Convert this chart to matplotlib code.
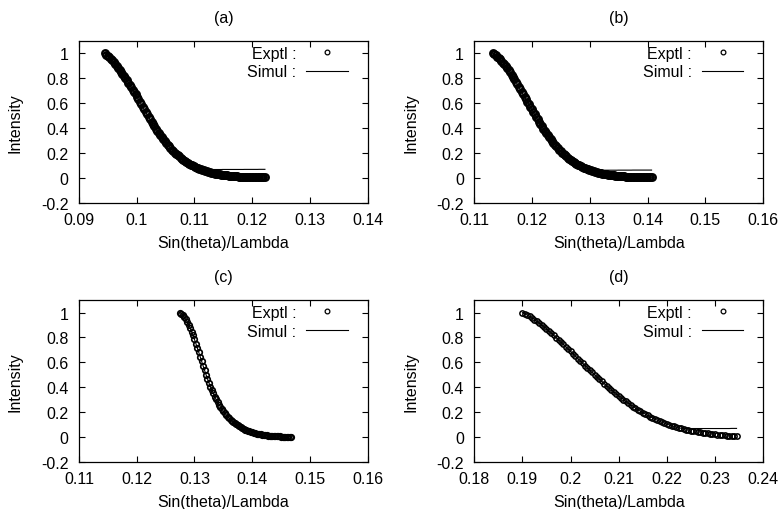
import numpy as np
import matplotlib
matplotlib.use('Agg')
import matplotlib.pyplot as plt

plt.rcParams['font.family'] = ['Liberation Sans', 'DejaVu Sans']
FS = 11.5
plt.rcParams['font.size'] = FS

# ---------------- data ----------------
panel_titles = ['(a)', '(b)', '(c)', '(d)']
x_label = 'Sin(theta)/Lambda'
y_label = 'Intensity'
legend_labels = ['Exptl :', 'Simul :']

# x extents of the measured scans (uniformly sampled)
x_start_a, x_end_a, n_a = 0.0945, 0.1222, 111
x_start_b, x_end_b, n_b = 0.1132, 0.1407, 111
x_start_c, x_end_c, n_c = 0.1275, 0.14675, 78
x_start_d, x_end_d, n_d = 0.1900, 0.2345, 90

exp_a = [1.0,
         0.9901, 0.9795, 0.9681, 0.956, 0.9431, 0.9295,
         0.9153, 0.9005, 0.8853, 0.8695, 0.8533, 0.8365,
         0.8193, 0.8018, 0.784, 0.7658, 0.7473, 0.7285,
         0.7094, 0.69, 0.6704, 0.6505, 0.6304, 0.61,
         0.5895, 0.5691, 0.5488, 0.5286, 0.5085, 0.4885,
         0.4687, 0.4493, 0.4303, 0.4118, 0.3937, 0.376,
         0.3587, 0.3419, 0.3256, 0.3098, 0.2945, 0.2797,
         0.2655, 0.2518, 0.2386, 0.226, 0.2139, 0.2024,
         0.1914, 0.1808, 0.1707, 0.161, 0.1518, 0.1431,
         0.1348, 0.1269, 0.1193, 0.1121, 0.1053, 0.0989,
         0.0928, 0.087, 0.0815, 0.0763, 0.0714, 0.0667,
         0.0623, 0.0581, 0.0542, 0.0505, 0.047, 0.0438,
         0.0408, 0.0379, 0.0352, 0.0327, 0.0303, 0.0281,
         0.026, 0.0241, 0.0223, 0.0206, 0.019, 0.0176,
         0.0163, 0.015, 0.0138, 0.0127, 0.0117, 0.0108,
         0.0099, 0.0091, 0.0084, 0.0077, 0.007, 0.0064,
         0.0058, 0.0053, 0.0049, 0.0044, 0.004, 0.0037,
         0.0034, 0.0031, 0.0028, 0.0025, 0.0022, 0.002, 0.0018, 0.0016]
sim_a = exp_a[:66] + [0.0665, 0.066, 0.066, 0.0655, 0.0655, 0.0655, 0.0655, 0.0655, 0.0655, 0.0655,
                      0.0655, 0.0655, 0.0655, 0.0655, 0.0655, 0.066, 0.066, 0.066, 0.066, 0.066,
                      0.066, 0.066, 0.066, 0.066, 0.066, 0.066, 0.066, 0.066, 0.066, 0.066,
                      0.0665, 0.0665, 0.0665, 0.0665, 0.0665, 0.0665, 0.0665, 0.0665, 0.0665, 0.0665,
                      0.067, 0.067, 0.067, 0.067, 0.067]

exp_b = [1.0,
         0.9925, 0.984, 0.9745, 0.964, 0.9525, 0.94,
         0.9265, 0.912, 0.8965, 0.8805, 0.8638, 0.8465,
         0.8285, 0.81, 0.791, 0.7715, 0.7515, 0.731,
         0.71, 0.69, 0.6704, 0.6505, 0.6304, 0.61,
         0.5895, 0.5691, 0.5488, 0.5286, 0.5085, 0.4885,
         0.4687, 0.4493, 0.4303, 0.4118, 0.3937, 0.376,
         0.3587, 0.3419, 0.3256, 0.3098, 0.2945, 0.2797,
         0.2655, 0.2518, 0.2386, 0.226, 0.2139, 0.2024,
         0.1914, 0.1808, 0.1707, 0.161, 0.1518, 0.1431,
         0.1348, 0.1269, 0.1193, 0.1121, 0.1053, 0.0989,
         0.0928, 0.087, 0.0815, 0.0763, 0.0714, 0.0667,
         0.0623, 0.0581, 0.0542, 0.0505, 0.047, 0.0438,
         0.0408, 0.0379, 0.0352, 0.0327, 0.0303, 0.0281,
         0.026, 0.0241, 0.0223, 0.0206, 0.019, 0.0176,
         0.0163, 0.015, 0.0138, 0.0127, 0.0117, 0.0108,
         0.0099, 0.0091, 0.0084, 0.0077, 0.007, 0.0064,
         0.0058, 0.0053, 0.0049, 0.0044, 0.004, 0.0037,
         0.0034, 0.0031, 0.0028, 0.0025, 0.0022, 0.002, 0.0018, 0.0016]
sim_b = exp_b[:67] + [0.0615, 0.061, 0.0605, 0.0605, 0.060, 0.060, 0.060, 0.060, 0.060, 0.060,
                      0.060, 0.060, 0.060, 0.060, 0.060, 0.060, 0.060, 0.060, 0.060, 0.060,
                      0.0605, 0.0605, 0.0605, 0.0605, 0.0605, 0.0605, 0.0605, 0.0605, 0.0605, 0.0605,
                      0.061, 0.061, 0.061, 0.061, 0.061, 0.061, 0.061, 0.061, 0.061, 0.061,
                      0.061, 0.061, 0.061, 0.061]

exp_c = [1.0,
         0.99, 0.9775, 0.9625, 0.945, 0.9248, 0.9018, 0.876, 0.8474,
         0.8166, 0.7843, 0.7505, 0.7152, 0.6792, 0.6431, 0.6069, 0.5707,
         0.5351, 0.5007, 0.4676, 0.4357, 0.4053, 0.3767, 0.3498, 0.3247,
         0.3012, 0.2793, 0.2589, 0.2401, 0.2226, 0.2062, 0.1908, 0.1765,
         0.1631, 0.1506, 0.1389, 0.128, 0.1178, 0.1083, 0.0995, 0.0914,
         0.0839, 0.0769, 0.0704, 0.0644, 0.0588, 0.0536, 0.0488, 0.0444,
         0.0403, 0.0365, 0.033, 0.0298, 0.0269, 0.0242, 0.0217, 0.0195,
         0.0174, 0.0155, 0.0138, 0.0122, 0.0108, 0.0095, 0.0083, 0.0072,
         0.0062, 0.0053, 0.0045, 0.0038, 0.0031, 0.0025, 0.002, 0.0015,
         0.0012, 0.001, 0.0008, 0.0006, 0.0005]
sim_c = list(exp_c)

exp_d = [1.0,
         0.9905, 0.9802, 0.969, 0.9569, 0.944, 0.9304, 0.916, 0.9009,
         0.8851, 0.8688, 0.852, 0.8347, 0.8171, 0.7992, 0.7811, 0.7627,
         0.7441, 0.7254, 0.7066, 0.6876, 0.6686, 0.6496, 0.6306, 0.6116,
         0.5926, 0.5738, 0.5551, 0.5365, 0.5181, 0.4999, 0.4819, 0.464,
         0.4464, 0.429, 0.4119, 0.395, 0.3784, 0.3621, 0.3461, 0.3304,
         0.3151, 0.3002, 0.2856, 0.2714, 0.2576, 0.2442, 0.2313, 0.2188,
         0.2068, 0.1952, 0.184, 0.1733, 0.163, 0.1531, 0.1437, 0.1347,
         0.1262, 0.1181, 0.1104, 0.1032, 0.0964, 0.09, 0.0839, 0.0782,
         0.0729, 0.0679, 0.0632, 0.0588, 0.0547, 0.0507, 0.0469, 0.0433,
         0.0399, 0.0366, 0.0335, 0.0305, 0.0277, 0.025, 0.0224, 0.02,
         0.0177, 0.0155, 0.0134, 0.0114, 0.0095, 0.0078, 0.0062, 0.0046,
         0.0032]
sim_d = exp_d[:66] + [0.069,
                      0.068, 0.068, 0.068, 0.067, 0.067, 0.067, 0.067, 0.067, 0.067, 0.067,
                      0.067, 0.067, 0.067, 0.067, 0.067, 0.067, 0.067, 0.067, 0.067, 0.067,
                      0.068, 0.068, 0.068]

xticks_a = [0.09, 0.10, 0.11, 0.12, 0.13, 0.14]
xticklabels_a = ['0.09', '0.1', '0.11', '0.12', '0.13', '0.14']
xticks_b = [0.11, 0.12, 0.13, 0.14, 0.15, 0.16]
xticklabels_b = ['0.11', '0.12', '0.13', '0.14', '0.15', '0.16']
xticks_c = [0.11, 0.12, 0.13, 0.14, 0.15, 0.16]
xticklabels_c = ['0.11', '0.12', '0.13', '0.14', '0.15', '0.16']
xticks_d = [0.18, 0.19, 0.20, 0.21, 0.22, 0.23, 0.24]
xticklabels_d = ['0.18', '0.19', '0.2', '0.21', '0.22', '0.23', '0.24']
yticks = [-0.2, 0.0, 0.2, 0.4, 0.6, 0.8, 1.0]
yticklabels = ['-0.2', '0', '0.2', '0.4', '0.6', '0.8', '1']
ylim = (-0.2, 1.1)

# ---------------- layout ----------------
W, H = 780, 510
fig = plt.figure(figsize=(W / 100, H / 100), dpi=100)
ax_w, ax_h = 288.7, 161.5
lefts = [79, 474.3, 79, 474.3]
tops = [42, 42, 301.2, 301.2]

panels = [
    (x_start_a, x_end_a, n_a, exp_a, sim_a, xticks_a, xticklabels_a, 4.8, 1.6),
    (x_start_b, x_end_b, n_b, exp_b, sim_b, xticks_b, xticklabels_b, 4.8, 1.6),
    (x_start_c, x_end_c, n_c, exp_c, sim_c, xticks_c, xticklabels_c, 4.0, 1.2),
    (x_start_d, x_end_d, n_d, exp_d, sim_d, xticks_d, xticklabels_d, 3.8, 1.1),
]

for i, (x0, x1, n, ye, ys, xt, xtl, ms, mew) in enumerate(panels):
    l, t = lefts[i], tops[i]
    ax = fig.add_axes([l / W, (H - t - ax_h) / H, ax_w / W, ax_h / H])
    x = np.linspace(x0, x1, n)
    ax.plot(x, ye, linestyle='none', marker='o', markersize=ms,
            markerfacecolor='none', markeredgecolor='black', markeredgewidth=mew,
            label=legend_labels[0], zorder=3)
    ax.plot(x, ys, color='black', linewidth=0.8, label=legend_labels[1], zorder=2)
    ax.set_xlim(xt[0], xt[-1])
    ax.set_ylim(*ylim)
    ax.set_xticks(xt)
    ax.set_xticklabels(xtl)
    ax.set_yticks(yticks)
    ax.set_yticklabels(yticklabels)
    ax.tick_params(direction='in', top=True, right=True, length=4, width=0.8,
                   labelsize=FS)
    ax.tick_params(axis='x', pad=6.5)
    ax.tick_params(axis='y', pad=7.5)
    for s in ax.spines.values():
        s.set_linewidth(0.9)
    ax.set_title(panel_titles[i], fontsize=FS, pad=14)
    ax.set_xlabel(x_label, fontsize=FS)
    ax.set_ylabel(y_label, fontsize=FS)
    ax.xaxis.set_label_coords(0.5, -0.20)
    ax.yaxis.set_label_coords(-0.195, 0.5)
    leg = ax.legend(loc='upper right', bbox_to_anchor=(0.94, 0.985),
                    markerfirst=False, frameon=False, borderaxespad=0,
                    borderpad=0.15, handlelength=2.6, handletextpad=0.62,
                    labelspacing=0.22, fontsize=FS, numpoints=1)
    for h in leg.legend_handles:
        if h.get_marker() == 'o':
            h.set_markersize(3.4)
            h.set_markeredgewidth(0.9)

fig.savefig('out.png', dpi=100)
